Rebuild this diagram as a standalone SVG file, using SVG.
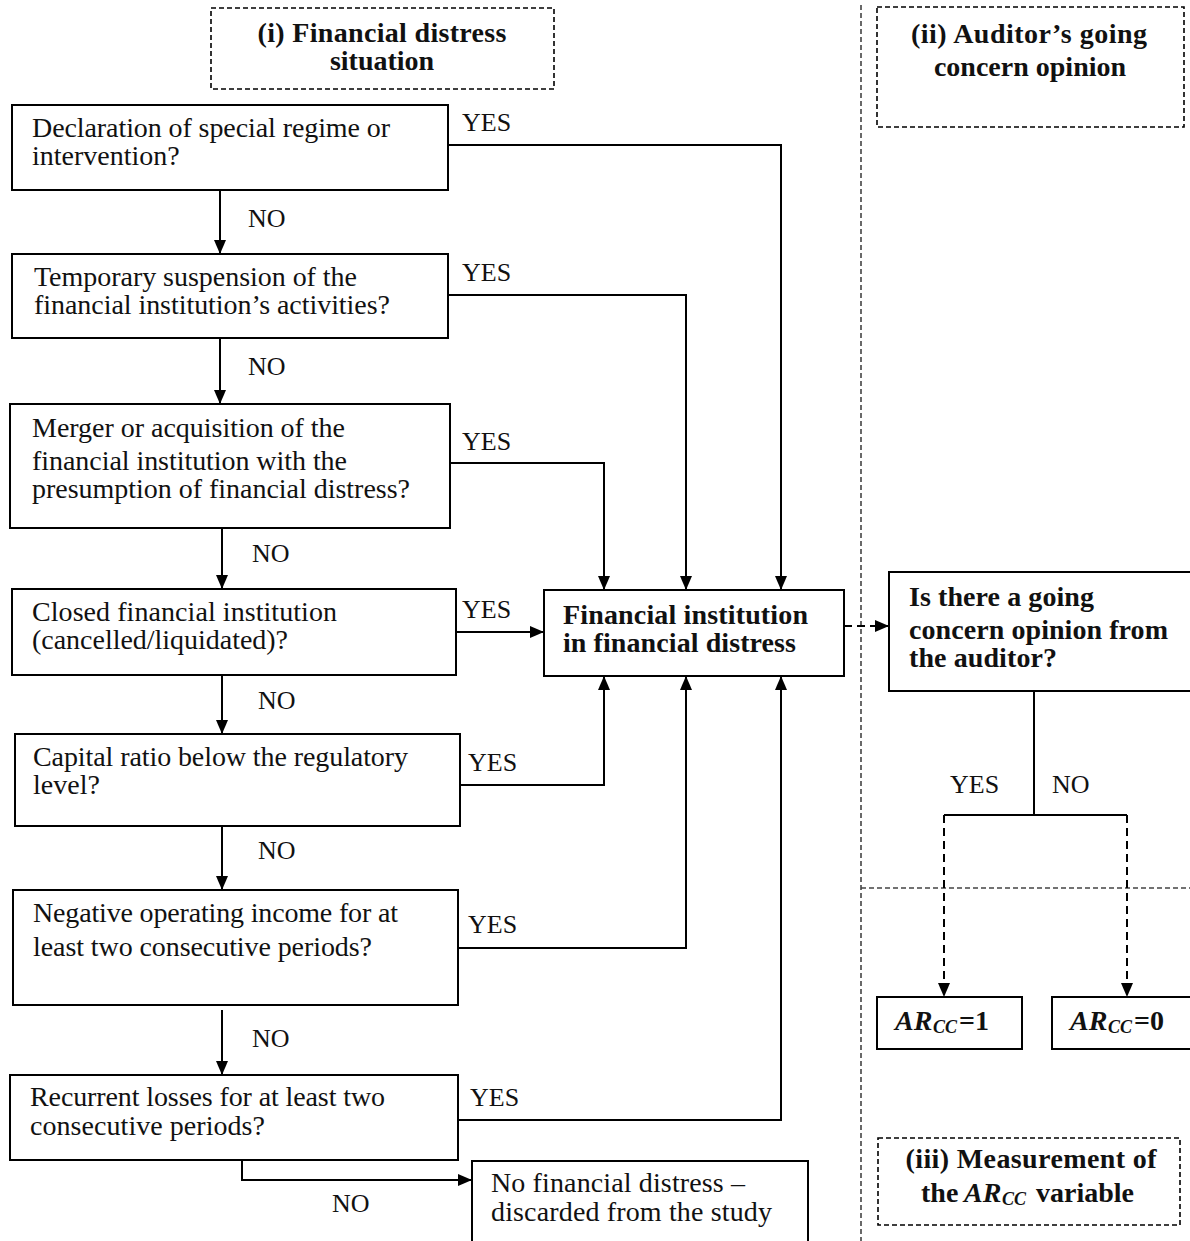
<svg xmlns="http://www.w3.org/2000/svg" width="1190" height="1241" viewBox="0 0 1190 1241">
<defs>
<marker id="ah" viewBox="0 0 14 12" refX="14" refY="6" markerWidth="14" markerHeight="12" markerUnits="userSpaceOnUse" orient="auto"><path d="M0,0 L14,6 L0,12 z" fill="#000"/></marker>
<style>
.box{fill:#fff;stroke:#000;stroke-width:2}
.dbox{fill:#fff;stroke:#000;stroke-width:1.6;stroke-dasharray:5 3}
.t{font-family:"Liberation Serif","Times New Roman",serif;font-size:28px;fill:#111}
.b{font-family:"Liberation Serif","Times New Roman",serif;font-size:28px;font-weight:bold;fill:#111}
.bi{font-family:"Liberation Serif","Times New Roman",serif;font-size:28px;font-weight:bold;font-style:italic;fill:#111}
.sub{font-family:"Liberation Serif","Times New Roman",serif;font-size:18px;font-weight:bold;font-style:italic;fill:#111}
.lbl{font-family:"Liberation Serif","Times New Roman",serif;font-size:26px;fill:#111}
.ln{fill:none;stroke:#000;stroke-width:2}
.dl{fill:none;stroke:#000;stroke-width:2;stroke-dasharray:8 5}
.div{fill:none;stroke:#444;stroke-width:1.6;stroke-dasharray:5 3}
</style>
</defs>
<rect width="1190" height="1241" fill="#fff"/>

<g id="dividers">
<line class="div" x1="861" y1="5" x2="861" y2="1241"/>
<line class="div" x1="861" y1="888" x2="1190" y2="888"/>
</g>

<g id="title-i">
<rect class="dbox" x="211" y="8" width="343" height="81"/>
<text class="b" x="382" y="42" text-anchor="middle" textLength="249">(i) Financial distress</text>
<text class="b" x="382" y="70" text-anchor="middle">situation</text>
</g>
<g id="title-ii">
<rect class="dbox" x="877" y="7" width="307" height="120"/>
<text class="b" x="1029" y="43" text-anchor="middle" textLength="236">(ii) Auditor’s going</text>
<text class="b" x="1030" y="76" text-anchor="middle">concern opinion</text>
</g>
<g id="title-iii">
<rect class="dbox" x="878" y="1138" width="302" height="87"/>
<text class="b" x="1031" y="1168" text-anchor="middle" textLength="251">(iii) Measurement of</text>
<text class="b" x="921" y="1202">the</text>
<text class="bi" x="964" y="1202">AR</text>
<text class="sub" x="1002" y="1205">CC</text>
<text class="b" x="1036" y="1202">variable</text>
</g>

<g id="connectors">
<line class="ln" x1="220" y1="190" x2="220" y2="254" marker-end="url(#ah)"/>
<line class="ln" x1="220" y1="338" x2="220" y2="404" marker-end="url(#ah)"/>
<line class="ln" x1="222" y1="528" x2="222" y2="589" marker-end="url(#ah)"/>
<line class="ln" x1="222" y1="675" x2="222" y2="734" marker-end="url(#ah)"/>
<line class="ln" x1="222" y1="826" x2="222" y2="890" marker-end="url(#ah)"/>
<line class="ln" x1="222" y1="1010" x2="222" y2="1075" marker-end="url(#ah)"/>
<polyline class="ln" points="242,1160 242,1180 472,1180" marker-end="url(#ah)"/>
<polyline class="ln" points="448,145 781,145 781,590" marker-end="url(#ah)"/>
<polyline class="ln" points="448,295 686,295 686,590" marker-end="url(#ah)"/>
<polyline class="ln" points="450,463 604,463 604,590" marker-end="url(#ah)"/>
<line class="ln" x1="456" y1="632" x2="544" y2="632" marker-end="url(#ah)"/>
<polyline class="ln" points="460,785 604,785 604,676" marker-end="url(#ah)"/>
<polyline class="ln" points="458,948 686,948 686,676" marker-end="url(#ah)"/>
<polyline class="ln" points="458,1120 781,1120 781,676" marker-end="url(#ah)"/>
<line class="dl" x1="844" y1="626" x2="889" y2="626" marker-end="url(#ah)"/>
<polyline class="ln" points="1034,691 1034,815"/>
<line class="ln" x1="944" y1="815" x2="1127" y2="815"/>
<line class="dl" x1="944" y1="815" x2="944" y2="997" marker-end="url(#ah)"/>
<line class="dl" x1="1127" y1="815" x2="1127" y2="997" marker-end="url(#ah)"/>
<text class="lbl" x="462" y="131">YES</text>
<text class="lbl" x="462" y="281">YES</text>
<text class="lbl" x="462" y="450">YES</text>
<text class="lbl" x="462" y="618">YES</text>
<text class="lbl" x="468" y="771">YES</text>
<text class="lbl" x="468" y="933">YES</text>
<text class="lbl" x="470" y="1106">YES</text>
<text class="lbl" x="248" y="227">NO</text>
<text class="lbl" x="248" y="375">NO</text>
<text class="lbl" x="252" y="562">NO</text>
<text class="lbl" x="258" y="709">NO</text>
<text class="lbl" x="258" y="859">NO</text>
<text class="lbl" x="252" y="1047">NO</text>
<text class="lbl" x="332" y="1212">NO</text>
<text class="lbl" x="950" y="793">YES</text>
<text class="lbl" x="1052" y="793">NO</text>
</g>

<g id="q1">
<rect class="box" x="12" y="105" width="436" height="85"/>
<text class="t" x="32" y="137" textLength="358">Declaration of special regime or</text>
<text class="t" x="32" y="165">intervention?</text>
</g>
<g id="q2">
<rect class="box" x="12" y="254" width="436" height="84"/>
<text class="t" x="34" y="286" textLength="323">Temporary suspension of the</text>
<text class="t" x="34" y="314" textLength="356">financial institution’s activities?</text>
</g>
<g id="q3">
<rect class="box" x="10" y="404" width="440" height="124"/>
<text class="t" x="32" y="437" textLength="313">Merger or acquisition of the</text>
<text class="t" x="32" y="470" textLength="315">financial institution with the</text>
<text class="t" x="32" y="498" textLength="378">presumption of financial distress?</text>
</g>
<g id="q4">
<rect class="box" x="12" y="589" width="444" height="86"/>
<text class="t" x="32" y="621" textLength="305">Closed financial institution</text>
<text class="t" x="32" y="649" textLength="256">(cancelled/liquidated)?</text>
</g>
<g id="q5">
<rect class="box" x="15" y="734" width="445" height="92"/>
<text class="t" x="33" y="766" textLength="375">Capital ratio below the regulatory</text>
<text class="t" x="33" y="794">level?</text>
</g>
<g id="q6">
<rect class="box" x="13" y="890" width="445" height="115"/>
<text class="t" x="33" y="922" textLength="365">Negative operating income for at</text>
<text class="t" x="33" y="956" textLength="339">least two consecutive periods?</text>
</g>
<g id="q7">
<rect class="box" x="10" y="1075" width="448" height="85"/>
<text class="t" x="30" y="1106" textLength="355">Recurrent losses for at least two</text>
<text class="t" x="30" y="1135" textLength="235">consecutive periods?</text>
</g>
<g id="no-distress">
<rect class="box" x="472" y="1161" width="336" height="84"/>
<text class="t" x="491" y="1192" textLength="254">No financial distress –</text>
<text class="t" x="491" y="1221" textLength="281">discarded from the study</text>
</g>
<g id="distress">
<rect class="box" x="544" y="590" width="300" height="86"/>
<text class="b" x="563" y="624" textLength="245">Financial institution</text>
<text class="b" x="563" y="652" textLength="233">in financial distress</text>
</g>
<g id="auditor-q">
<rect class="box" x="889" y="572" width="305" height="119"/>
<text class="b" x="909" y="606" textLength="185">Is there a going</text>
<text class="b" x="909" y="639" textLength="259">concern opinion from</text>
<text class="b" x="909" y="667" textLength="148">the auditor?</text>
</g>
<g id="ar1">
<rect class="box" x="877" y="997" width="145" height="52"/>
<text class="bi" x="895" y="1030">AR</text>
<text class="sub" x="933" y="1033">CC</text>
<text class="b" x="959" y="1030">=1</text>
</g>
<g id="ar0">
<rect class="box" x="1052" y="997" width="142" height="52"/>
<text class="bi" x="1070" y="1030">AR</text>
<text class="sub" x="1108" y="1033">CC</text>
<text class="b" x="1134" y="1030">=0</text>
</g>
</svg>
